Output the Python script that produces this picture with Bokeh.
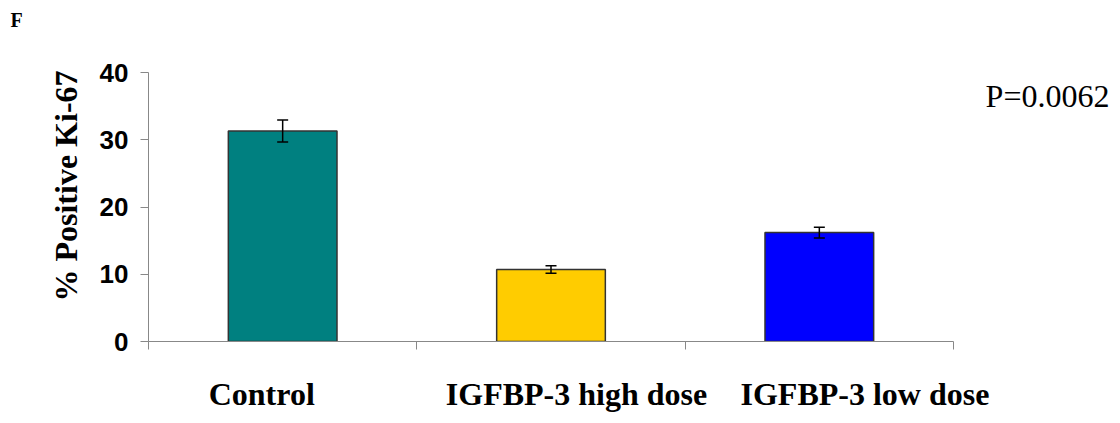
from bokeh.plotting import figure
from bokeh.models import (ColumnDataSource, Whisker, TeeHead, Label, Title,
                          FixedTicker, Range1d, LinearAxis, CustomJSTickFormatter)
from bokeh.embed import file_html
from bokeh.resources import INLINE

categories = ["Control", "IGFBP-3 high dose", "IGFBP-3 low dose"]
values = [31.3, 10.7, 16.2]
errors = [1.65, 0.55, 0.8]
colors = ["#008080", "#FFCC00", "#0000FF"]
y_ticks = [0, 10, 20, 30, 40]
p_value_text = "P=0.0062"
panel_letter = "F"

# label horizontal nudges (in category-width fractions), style only
label_nudge = [-0.078, 0.095, 0.17]

n = len(categories)
xc = [i + 0.5 for i in range(n)]
src = ColumnDataSource(dict(
    x=xc, top=values,
    upper=[v + e for v, e in zip(values, errors)],
    lower=[v - e for v, e in zip(values, errors)],
    color=colors,
))

# layout in pixels
W, H = 1115, 418
left, top, bottom_px = 148, 30, 341
axis_right_px, axis_top_px = 953, 72
px_per_cat = (axis_right_px - left) / n
px_per_unit = (bottom_px - axis_top_px) / 40.0
x_end = n + (W - axis_right_px) / px_per_cat
y_end = 40 + (axis_top_px - top) / px_per_unit

p = figure(width=W, height=H, output_backend="svg", toolbar_location=None,
           x_range=Range1d(0, x_end), y_range=Range1d(0, y_end),
           min_border_left=left, min_border_right=0,
           min_border_top=top, min_border_bottom=H - bottom_px)
p.outline_line_color = None
p.grid.grid_line_color = None
p.background_fill_color = "white"

p.vbar(x="x", top="top", width=0.405, bottom=0, source=src,
       fill_color="color", line_color="#333333", line_width=1.5)

w = Whisker(base="x", upper="upper", lower="lower", source=src,
            line_color="black", line_width=1.5, level="overlay",
            upper_head=TeeHead(size=11, line_color="black", line_width=1.5),
            lower_head=TeeHead(size=11, line_color="black", line_width=1.5))
p.add_layout(w)

# y axis
p.yaxis.ticker = FixedTicker(ticks=y_ticks)
p.yaxis.bounds = (0, 40)
p.yaxis.axis_line_color = "#888888"
p.yaxis.major_tick_line_color = "#888888"
p.yaxis.major_tick_in = 0
p.yaxis.major_tick_out = 8
p.yaxis.minor_tick_line_color = None
p.yaxis.major_label_text_font = "Liberation Sans"
p.yaxis.major_label_text_font_style = "bold"
p.yaxis.major_label_text_font_size = "26px"
p.yaxis.major_label_text_color = "black"
p.yaxis.major_label_standoff = 12
p.yaxis.axis_label = "% Positive Ki-67"
p.yaxis.axis_label_text_font = "Liberation Serif"
p.yaxis.axis_label_text_font_style = "bold"
p.yaxis.axis_label_text_font_size = "32px"
p.yaxis.axis_label_text_color = "black"
p.yaxis.axis_label_standoff = 13

# x axis: ticks at category boundaries, no labels
p.xaxis.ticker = FixedTicker(ticks=list(range(n + 1)))
p.xaxis.bounds = (0, n)
p.xaxis.axis_line_color = "#888888"
p.xaxis.major_tick_line_color = "#888888"
p.xaxis.major_tick_in = 0
p.xaxis.major_tick_out = 8
p.xaxis.minor_tick_line_color = None
p.xaxis.major_label_text_font_size = "1px"
p.xaxis.major_label_text_color = None
p.xaxis.major_label_standoff = 0

# category labels axis
lab_axis = LinearAxis(
    ticker=FixedTicker(ticks=[c + d for c, d in zip(xc, label_nudge)]),
    formatter=CustomJSTickFormatter(args=dict(names=categories),
                                    code="return names[index];"),
    axis_line_color=None, major_tick_line_color=None, minor_tick_line_color=None,
    major_label_text_font="Liberation Serif", major_label_text_font_style="bold",
    major_label_text_font_size="32px", major_label_text_color="black",
    major_label_standoff=20)
p.add_layout(lab_axis, "below")

p.add_layout(Label(x=1047 - left, y=bottom_px - 95, x_units="screen", y_units="screen",
                   text=p_value_text, text_font="Liberation Serif",
                   text_font_size="32px", text_color="black",
                   text_align="center", text_baseline="middle"))

p.add_layout(Title(text=panel_letter, align="left", offset=10 - left,
                   text_font="Liberation Serif", text_font_style="bold",
                   text_font_size="20px", text_color="black", standoff=0),
             "above")

open("out.html", "w").write(file_html(p, INLINE))
